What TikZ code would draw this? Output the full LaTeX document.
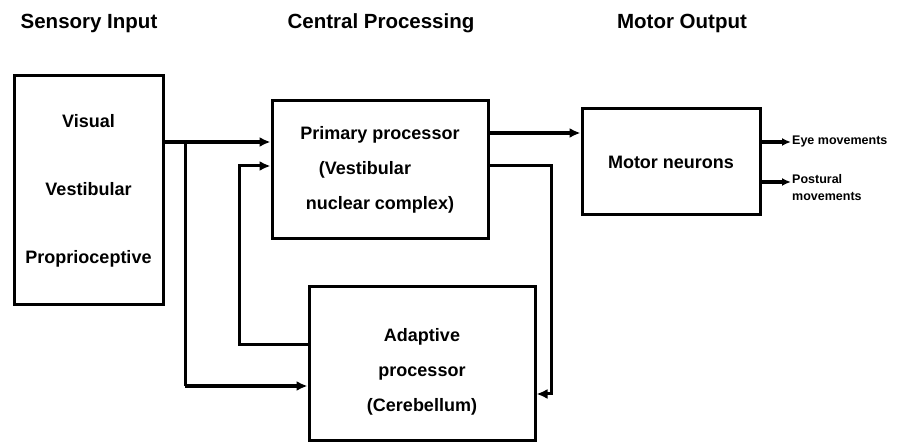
\documentclass[tikz,border=0pt]{standalone}
\usepackage{fontspec}
\setmainfont{Liberation Sans}
\usetikzlibrary{arrows.meta,positioning}
\tikzset{>={Latex[length=11pt,width=10pt]}}
\tikzset{
    block/.style={rectangle,draw,line width=3pt,inner sep=0pt,align=center,font=\fontsize{18}{35}\selectfont\bfseries},
    boxtext/.style={align=center,inner sep=0pt,font=\fontsize{18}{35}\selectfont\bfseries},
    heading/.style={inner sep=0pt,font=\fontsize{20.5}{24}\selectfont\bfseries},
    outlabel/.style={align=left,inner sep=1pt,font=\fontsize{12.5}{17}\selectfont\bfseries},
    heavy/.style={line width=4.5pt},
    light/.style={line width=3pt},
    directed/.style={arrows={->}},
    smalltip/.style={>={Latex[length=9pt,width=8pt]}},
}

\begin{document}
\begin{tikzpicture}[x=1pt,y=-1pt]
		\useasboundingbox (0,0) rectangle (900,443);

		% column headings
		\node[heading] (hsens) at (89,23) {Sensory Input};
		\node[heading] (hcent) at (381,23) {Central Processing};
		\node[heading] (hmot) at (682,23) {Motor Output};

		% blocks
		\node[block,minimum width=149,minimum height=229,font=\fontsize{18}{68}\selectfont\bfseries] (sensory) at (88.5,190.5)
			{Visual\\Vestibular\\Proprioceptive};
		\node[block,minimum width=216,minimum height=138] (primary) at (380,170)
			{Primary processor\\(Vestibular\hphantom{xxx}\\nuclear complex)};
		\node[block,minimum width=226,minimum height=154] (adaptive) at (422,364) {};
		\node[boxtext] (adaptivetxt) at ([yshift=-8pt]adaptive.center)
			{Adaptive\\processor\\(Cerebellum)};
		\node[block,minimum width=178,minimum height=106] (motor) at (671,162) {Motor neurons};

		% turning points
		\coordinate (split) at (185,142);
		\coordinate (lowin) at (185,386);
		\coordinate (fbturn) at (239,345);
		\coordinate (fbin) at (239,166);
		\coordinate (tomotor) at (551,133);
		\coordinate (fbout) at (551,166);
		\coordinate (fbdown) at (551,394);
		\coordinate (eyetip) at (791,142);
		\coordinate (posttip) at (791,182);

		\draw[heavy,directed] (split -| sensory.east) -- (split -| primary.west);
		\draw[light] (split) -- (lowin);
		\draw[heavy,directed] (lowin) -- (lowin -| adaptive.west);
		\draw[light,directed] (fbturn -| adaptive.west) -- (fbturn) -- (fbin) -- (fbin -| primary.west);
		\draw[heavy,directed] (tomotor -| primary.east) -- (tomotor -| motor.west);
		\draw[light,directed] (fbout -| primary.east) -- (fbout) -- (fbdown) -- (fbdown -| adaptive.east);

		% outputs
		\draw[heavy,directed,smalltip] (eyetip -| motor.east) -- (eyetip);
		\draw[heavy,directed,smalltip] (posttip -| motor.east) -- (posttip);
		\node[outlabel,anchor=west] (eyelbl) at (eyetip) {Eye movements};
		\node[outlabel,anchor=north west] (postlbl) at (791,173) {Postural\\movements};
	\end{tikzpicture}
\end{document}
